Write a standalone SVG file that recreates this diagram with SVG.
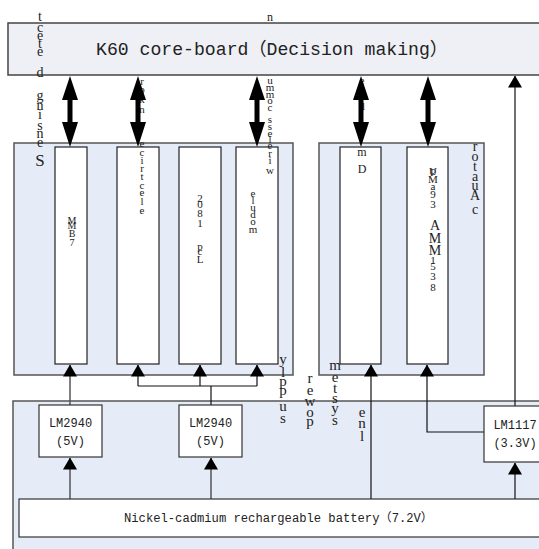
<svg xmlns="http://www.w3.org/2000/svg" width="539" height="549" viewBox="0 0 539 549">
<defs>
<marker id="ah" viewBox="0 0 12 14" refX="11.5" refY="7" markerWidth="12" markerHeight="14" markerUnits="userSpaceOnUse" orient="auto"><path d="M0,0 L12,7 L0,14 Z" fill="#000"/></marker>
</defs>
<style>
.grp{fill:#E6ECF7;stroke:#555;stroke-width:1.5}
.top{fill:#EEF0F5;stroke:#444;stroke-width:1.5}
.inner{fill:#fff;stroke:#222;stroke-width:1.2}
.reg{fill:#fff;stroke:#333;stroke-width:1.2}
.mono{font-family:"Liberation Mono","Noto Sans CJK SC",monospace;fill:#222}
.v{font-family:"Liberation Serif",serif;fill:#222;text-anchor:middle}
.wire{fill:none;stroke:#555;stroke-width:1.5}
.wire2{fill:none;stroke:#111;stroke-width:1.2}
.thick{fill:#000}
</style>
<rect width="539" height="549" fill="#fff"/>
<g id="top-board">
<rect class="top" x="8" y="23" width="540" height="52"/>
<text class="mono" x="96" y="55" font-size="18" textLength="352" lengthAdjust="spacingAndGlyphs">K60 core-board（Decision making）</text>
</g>
<g id="sensing">
<rect class="grp" x="14" y="143" width="279" height="232"/>
</g>
<g id="actuator">
<rect class="grp" x="319" y="143" width="165" height="232"/>
</g>
<g id="power">
<rect class="grp" x="13" y="401" width="540" height="160"/>
</g>
<g id="labels-under">
<text class="v" font-size="11" x="142 142 142 142" y="85 93 103 113">rokn</text>
<text class="v" font-size="11" x="362 362 362" y="84 110 132">edo</text>
</g>
<g id="connectors">
<path class="thick" d="M70,76 L78,100 L72.5,100 L72.5,122 L78,122 L70,147 L62,122 L67.5,122 L67.5,100 L62,100 Z"/>
<path class="thick" d="M138,76 L146,100 L140.5,100 L140.5,122 L146,122 L138,147 L130,122 L135.5,122 L135.5,100 L130,100 Z"/>
<path class="thick" d="M257,76 L265,100 L259.5,100 L259.5,122 L265,122 L257,147 L249,122 L254.5,122 L254.5,100 L249,100 Z"/>
<path class="thick" d="M361,76 L369,100 L363.5,100 L363.5,122 L369,122 L361,147 L353,122 L358.5,122 L358.5,100 L353,100 Z"/>
<path class="thick" d="M428,76 L436,100 L430.5,100 L430.5,122 L436,122 L428,147 L420,122 L425.5,122 L425.5,100 L420,100 Z"/>
<line class="wire" x1="70" y1="405" x2="70" y2="365" marker-end="url(#ah)"/>
<line class="wire" x1="70" y1="499" x2="70" y2="458" marker-end="url(#ah)"/>
<line class="wire" x1="211" y1="499" x2="211" y2="458" marker-end="url(#ah)"/>
<line class="wire2" x1="211" y1="405" x2="211" y2="386"/>
<polyline class="wire2" points="138,386 257,386"/>
<line class="wire2" x1="138" y1="386" x2="138" y2="365" marker-end="url(#ah)"/>
<line class="wire2" x1="200" y1="386" x2="200" y2="365" marker-end="url(#ah)"/>
<line class="wire2" x1="257" y1="386" x2="257" y2="365" marker-end="url(#ah)"/>
<line class="wire2" x1="371" y1="499" x2="371" y2="365" marker-end="url(#ah)"/>
<polyline class="wire2" points="484,432 427,432 427,365" marker-end="url(#ah)"/>
<line class="wire2" x1="515" y1="406" x2="515" y2="76" marker-end="url(#ah)"/>
<line class="wire2" x1="515" y1="499" x2="515" y2="463" marker-end="url(#ah)"/>
</g>
<g id="mma7361">
<rect class="inner" x="55" y="147" width="32" height="217"/>
<text class="v" font-size="10" x="72 72 72 72" y="224 229 237 246">MMB7</text>
</g>
<g id="encoder">
<rect class="inner" x="117" y="147" width="42" height="217"/>
<text class="v" font-size="11" x="142 142 142 142 142 142 142 142 142" y="147 156 164 172 180 189 196 205 214">ecirtcele</text>
</g>
<g id="lcd">
<rect class="inner" x="179" y="147" width="42" height="217"/>
<text class="v" font-size="11" x="200 200 200 200 200 200 200" y="202 208 217 227 250 255 263">2081pcL</text>
</g>
<g id="wireless">
<rect class="inner" x="236" y="147" width="42" height="217"/>
<text class="v" font-size="11" x="253 253 253 253 253 253" y="197 204 211 218 225 233">eludom</text>
</g>
<g id="motor">
<rect class="inner" x="340" y="147" width="41" height="217"/>
<text class="v" font-size="12" x="362 362" y="156 173">mD</text>
</g>
<g id="servo">
<rect class="inner" x="407" y="147" width="41" height="217"/>
<text class="v" font-size="11" x="433 433 433 433 433 433" y="175 176 183 190 198 208">UPMa93</text>
<text class="v" font-size="14" x="435 435 435" y="230 243 255">AMM</text>
<text class="v" font-size="11" x="433 433 433 433" y="264 270 280 291">1538</text>
</g>
<g id="lm2940a">
<rect class="reg" x="39" y="405" width="63" height="52"/>
<text class="mono" x="70.5" y="427" font-size="12" text-anchor="middle">LM2940</text>
<text class="mono" x="70.5" y="445" font-size="12" text-anchor="middle">(5V)</text>
</g>
<g id="lm2940b">
<rect class="reg" x="179" y="405" width="63" height="52"/>
<text class="mono" x="210.5" y="427" font-size="12" text-anchor="middle">LM2940</text>
<text class="mono" x="210.5" y="445" font-size="12" text-anchor="middle">(5V)</text>
</g>
<g id="lm1117">
<rect class="reg" x="484" y="406" width="62" height="56"/>
<text class="mono" x="515" y="429" font-size="12" text-anchor="middle">LM1117</text>
<text class="mono" x="515" y="447" font-size="12" text-anchor="middle">(3.3V)</text>
</g>
<g id="battery">
<rect class="reg" x="19" y="499" width="530" height="38"/>
<text class="mono" x="124" y="522" font-size="12" textLength="309" lengthAdjust="spacingAndGlyphs">Nickel-cadmium rechargeable battery（7.2V）</text>
</g>
<g id="labels">
<text class="v" font-size="14" x="40 40 40 40 40 40" y="21 32 40 48 56 77">tceted</text>
<text class="v" font-size="14" x="40 40 40 40 40 40" y="100 110 119 130 138 147">gnisne</text>
<text class="v" font-size="17" x="40" y="166">S</text>
<text class="v" font-size="12" x="270" y="21">n</text>
<text class="v" font-size="11" x="270 270 270 270 270" y="84 91 98 104 111">ummoc</text>
<text class="v" font-size="11" x="270 270 270 270 270 270 270 270" y="123 130 137 143 149 157 164 174">sseleriw</text>
<text class="v" font-size="14" x="475 475 475 475 475 475 475" y="151 161 171 181 190 200 214">rotauAc</text>
<text class="v" font-size="15" x="283 283 283 283 283 283" y="364 377 386 395 411 423">ylppus</text>
<text class="v" font-size="15" x="310 310 310 310 310" y="383 395 406 417 426">rewop</text>
<text class="v" font-size="15" x="335 335 335 335 335 335" y="370 382 393 403 413 425">metsys</text>
<text class="v" font-size="15" x="362 362 362" y="417 428 441">enl</text>
</g>
</svg>
